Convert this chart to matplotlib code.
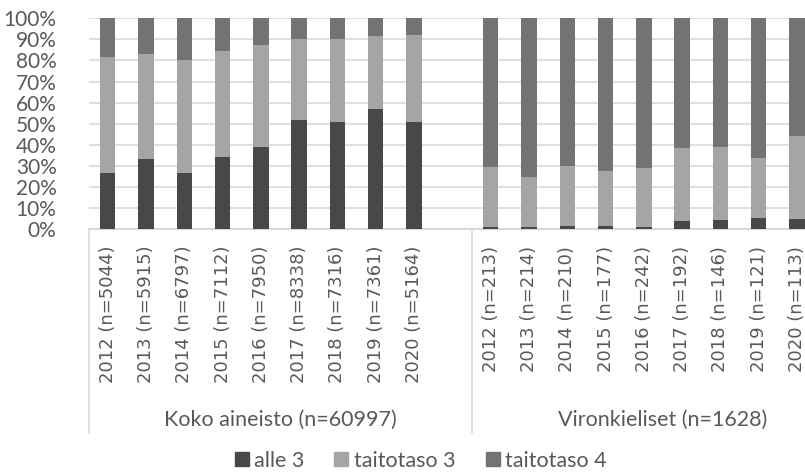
import matplotlib
matplotlib.use("Agg")
import matplotlib.pyplot as plt
from matplotlib.lines import Line2D
import matplotlib.transforms as mtransforms
import numpy as np

years = ["2012", "2013", "2014", "2015", "2016", "2017", "2018", "2019", "2020"]
n_koko = [5044, 5915, 6797, 7112, 7950, 8338, 7316, 7361, 5164]
n_viro = [213, 214, 210, 177, 242, 192, 146, 121, 113]
groups = ["Koko aineisto (n=60997)", "Vironkieliset (n=1628)"]
series = ["alle 3", "taitotaso 3", "taitotaso 4"]

# percentages (alle 3, cumulative alle3+taitotaso3)
koko_alle3 = [26.7, 33.4, 26.7, 34.3, 38.8, 51.9, 50.9, 57.1, 50.8]
koko_cum3 = [81.6, 83.1, 80.2, 84.5, 87.3, 90.0, 90.0, 91.8, 92.2]
viro_alle3 = [0.9, 0.9, 1.6, 1.4, 0.9, 4.0, 4.4, 5.4, 4.9]
viro_cum3 = [29.6, 24.8, 30.1, 27.7, 29.1, 38.6, 39.1, 33.9, 44.3]

colors = ["#484848", "#a5a5a5", "#737373"]
txt = "#595959"

W, H = 805, 473
fig = plt.figure(figsize=(W / 100, H / 100), dpi=100)
x0, x1 = 88.5, 816.2
ytop, ybot = 18.3, 229.0
ax = fig.add_axes([x0 / W, (H - ybot) / H, (x1 - x0) / W, (ybot - ytop) / H])

# build category arrays: group 1, empty, group 2
alle3 = koko_alle3 + [0] + viro_alle3
cum3 = koko_cum3 + [0] + viro_cum3
pos = [i for i in range(19) if i != 9]
a = np.array([alle3[i] for i in pos])
c = np.array([cum3[i] for i in pos])
t3 = c - a
t4 = 100 - c

bw = 0.4
ax.bar(pos, a, bw, color=colors[0], zorder=3)
ax.bar(pos, t3, bw, bottom=a, color=colors[1], zorder=3)
ax.bar(pos, t4, bw, bottom=c, color=colors[2], zorder=3)

ax.set_xlim(-0.5, 18.5)
ax.set_ylim(0, 100)
ax.set_yticks(range(0, 101, 10))
ax.set_yticklabels([f"{v}%" for v in range(0, 101, 10)], fontsize=15,
                   color=txt, family="Lato")
ax.yaxis.grid(True, color="#d9d9d9", linewidth=1.2, zorder=0)
ax.tick_params(axis="y", length=0, pad=23)

labels = [f"{y} (n={n})" for y, n in zip(years, n_koko)] + \
         [f"{y} (n={n})" for y, n in zip(years, n_viro)]
ax.set_xticks(pos)
ax.set_xticklabels(labels, rotation=90, fontsize=13, color=txt,
                   family="DejaVu Sans")
ax.tick_params(axis="x", length=0, pad=12)

for s in ["top", "right", "left"]:
    ax.spines[s].set_visible(False)
ax.spines["bottom"].set_color("#d9d9d9")
ax.spines["bottom"].set_linewidth(1.5)

trans = mtransforms.blended_transform_factory(ax.transData, ax.transAxes)
ylow = -(433 - ybot) / (ybot - ytop)
for xs in [-0.5, 9.5]:
    ax.add_line(Line2D([xs, xs], [0, ylow], transform=trans, color="#d9d9d9",
                       linewidth=1.2, clip_on=False))
ylab = -(420 - ybot) / (ybot - ytop)
ax.text(4.5, ylab, groups[0], transform=trans, ha="center", va="center",
        fontsize=15.5, color=txt, family="Lato")
ax.text(14.5, ylab, groups[1], transform=trans, ha="center", va="center",
        fontsize=15.5, color=txt, family="Lato")

handles = [Line2D([], [], marker="s", linestyle="none", markersize=9.5,
                  markerfacecolor=col, markeredgecolor=col) for col in colors]
fig.legend(handles, series, loc="center", bbox_to_anchor=(420 / W, (H - 461) / H),
           ncol=3, frameon=False, prop={"family": "Lato", "size": 15.5},
           labelcolor=txt, handletextpad=0.2, columnspacing=1.3, handlelength=0.8)

fig.savefig("out.png", dpi=100)
